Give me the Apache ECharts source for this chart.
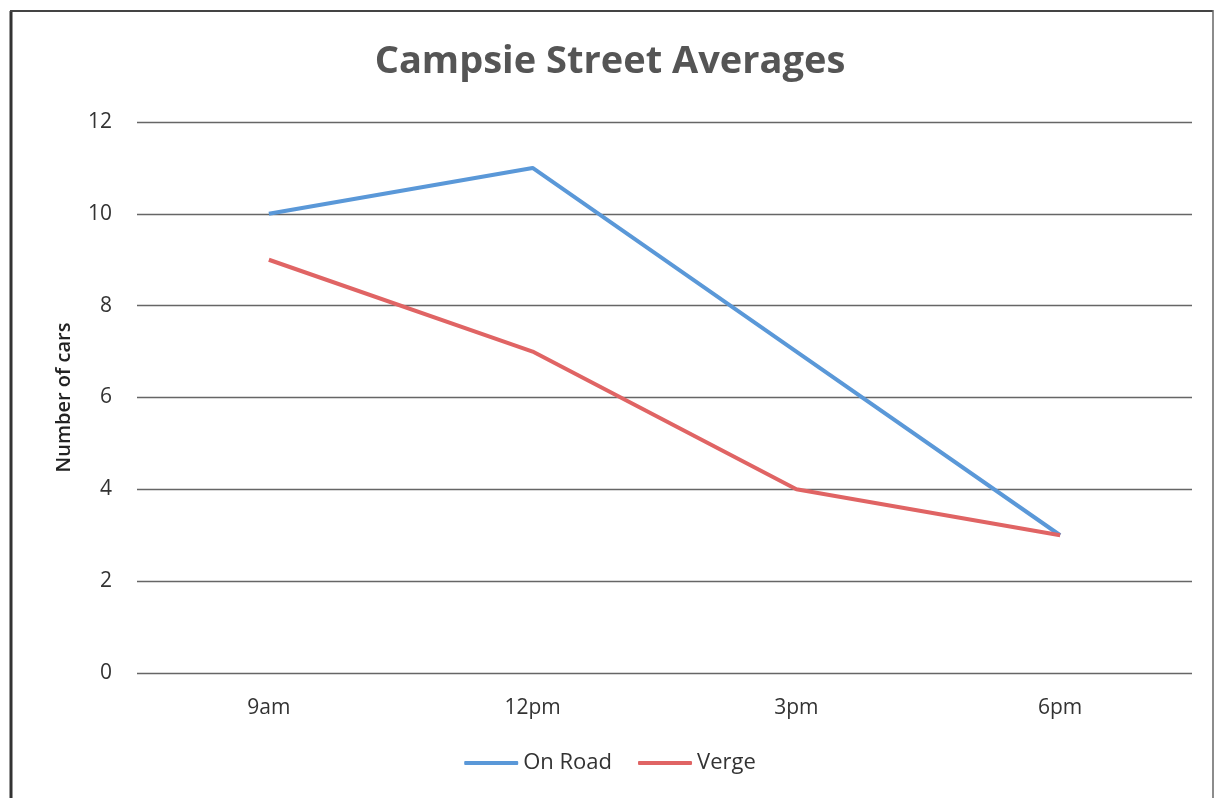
<!DOCTYPE html>
<html>
<head>
<meta charset="utf-8">
<script src="https://cdn.jsdelivr.net/npm/echarts@6/dist/echarts.min.js"></script>
<style>
  html, body { margin: 0; padding: 0; background: #fff; }
  #main { width: 1220px; height: 798px; }
</style>
</head>
<body>
<div id="main"></div>
<script>
// data
var times = ['9am', '12pm', '3pm', '6pm'];
var onRoad = [10, 11, 7, 3];
var verge = [9, 7, 4, 3];

var chart = echarts.init(document.getElementById('main'));
var font = '"Open Sans", "Noto Sans", sans-serif';

var option = {
  backgroundColor: '#fff',
  title: {
    text: 'Campsie Street Averages',
    left: 'center',
    top: 38,
    textStyle: { fontFamily: font, fontSize: 38, fontWeight: 'bold', color: '#555' }
  },
  legend: {
    bottom: 19,
    left: 'center',
    itemWidth: 54,
    itemHeight: 4,
    itemGap: 26,
    icon: 'roundRect',
    textStyle: { fontFamily: font, fontSize: 22, color: '#333' },
    data: ['On Road', 'Verge']
  },
  grid: { left: 137, right: 28, top: 122, bottom: 125 },
  xAxis: {
    type: 'category',
    data: times,
    boundaryGap: true,
    axisLine: { show: false },
    axisTick: { show: false },
    axisLabel: { fontFamily: font, fontSize: 21, color: '#333', margin: 25 }
  },
  yAxis: {
    type: 'value',
    min: 0,
    max: 12,
    interval: 2,
    name: 'Number of cars',
    nameLocation: 'middle',
    nameGap: 63,
    nameTextStyle: { fontFamily: font, fontSize: 20, fontWeight: 600, color: '#222' },
    axisLine: { show: false },
    axisTick: { show: false },
    axisLabel: { fontFamily: font, fontSize: 21, color: '#333', margin: 25 },
    splitLine: { lineStyle: { color: '#666', width: 1.3 } }
  },
  series: [
    {
      name: 'On Road',
      type: 'line',
      data: onRoad,
      symbol: 'none',
      color: '#5a98d8',
      lineStyle: { width: 4 }
    },
    {
      name: 'Verge',
      type: 'line',
      data: verge,
      symbol: 'none',
      color: '#e06464',
      lineStyle: { width: 4 }
    }
  ],
  graphic: [
    { type: 'line', shape: { x1: 11, y1: 11, x2: 11, y2: 798 }, style: { stroke: '#333', lineWidth: 3 } },
    { type: 'line', shape: { x1: 10, y1: 11, x2: 1213, y2: 11 }, style: { stroke: '#444', lineWidth: 2 } },
    { type: 'line', shape: { x1: 1213, y1: 10, x2: 1213, y2: 798 }, style: { stroke: '#666', lineWidth: 1.5 } }
  ]
};

chart.setOption(option);
</script>
</body>
</html>
